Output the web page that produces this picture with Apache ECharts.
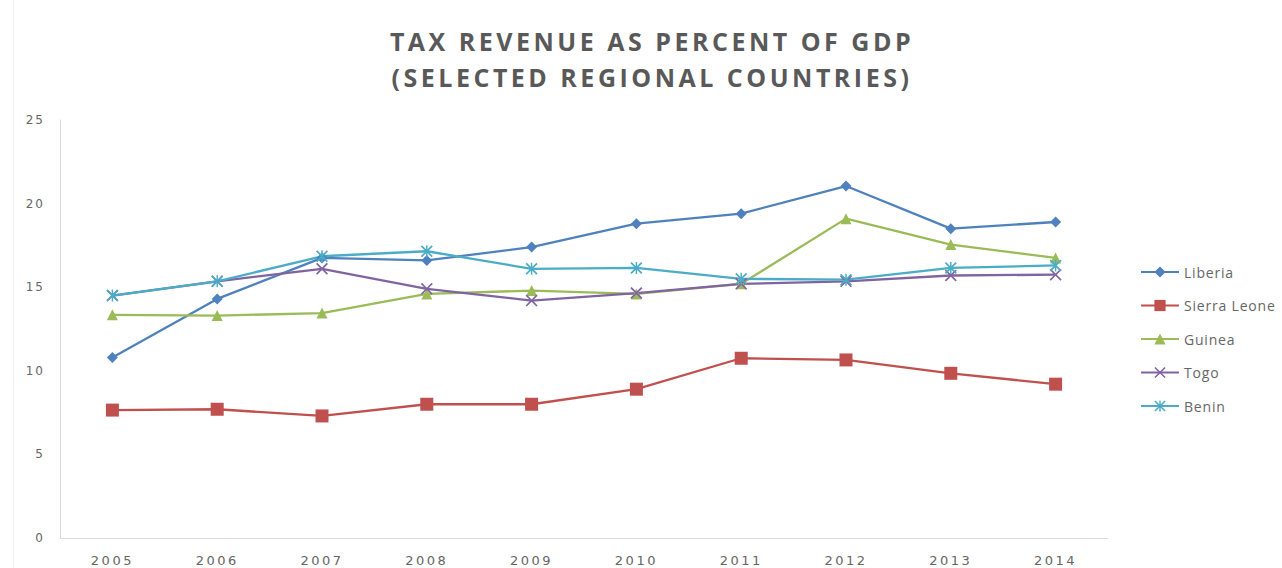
<!DOCTYPE html>
<html>
<head>
<meta charset="utf-8">
<script src="https://cdn.jsdelivr.net/npm/echarts@6/dist/echarts.min.js"></script>
<style>
html,body{margin:0;padding:0;background:#fff;}
#c{width:1282px;height:568px;}
#c text[style*="25px"]{letter-spacing:3.5px;}
#c text[style*="14px"]{letter-spacing:0.8px;}
#c text[style*="13px"]{letter-spacing:2.5px;}
#c text[style*="12px"]{letter-spacing:2px;}
</style>
</head>
<body>
<div id="c"></div>
<script>
const years = ['2005','2006','2007','2008','2009','2010','2011','2012','2013','2014'];
const liberia     = [10.8, 14.3, 16.75, 16.6, 17.4, 18.8, 19.4, 21.05, 18.5, 18.9];
const sierraLeone = [7.65, 7.7, 7.3, 8.0, 8.0, 8.9, 10.75, 10.65, 9.85, 9.2];
const guinea      = [13.35, 13.3, 13.45, 14.6, 14.8, 14.6, 15.2, 19.1, 17.55, 16.75];
const togo        = [14.5, 15.35, 16.1, 14.9, 14.2, 14.65, 15.2, 15.35, 15.7, 15.75];
const benin       = [14.5, 15.35, 16.85, 17.15, 16.1, 16.15, 15.5, 15.45, 16.15, 16.3];
const yTicks = [0, 5, 10, 15, 20, 25];

const xPath = 'path://M0,1L1,0L5,4L9,0L10,1L6,5L10,9L9,10L5,6L1,10L0,9L4,5Z';
const starPath = 'path://M0,1L1,0L5,4L9,0L10,1L6,5L10,9L9,10L5,6L1,10L0,9L4,5ZM4.4,0L5.6,0L5.6,10L4.4,10Z';

function mk(name, data, color, symbol, size) {
  return {
    name: name, type: 'line', data: data, symbol: symbol, symbolSize: size,
    showAllSymbol: true,
    lineStyle: {color: color, width: 2.3},
    itemStyle: {color: color},
    emphasis: {disabled: true}
  };
}

const chart = echarts.init(document.getElementById('c'), null, {renderer: 'svg'});
chart.setOption({
  animation: false,
  backgroundColor: '#ffffff',
  title: {
    text: 'TAX REVENUE AS PERCENT OF GDP\n(SELECTED REGIONAL COUNTRIES)',
    left: 647, top: 18, textAlign: 'center',
    textStyle: {fontFamily: 'Open Sans', fontWeight: 'bold', fontSize: 25, color: '#595959', lineHeight: 36}
  },
  graphic: [{
    type: 'rect', left: 13, top: 0, shape: {width: 1, height: 568},
    style: {fill: '#efefef'}, silent: true
  }],
  legend: {
    orient: 'vertical', left: 1135, top: 260,
    itemWidth: 38, itemHeight: 14, itemGap: 19.5,
    textStyle: {fontFamily: 'Open Sans', fontSize: 14, color: '#666666'},
    data: ['Liberia', 'Sierra Leone', 'Guinea', 'Togo', 'Benin']
  },
  grid: {left: 60, right: 174, top: 120, bottom: 30, containLabel: false},
  xAxis: {
    type: 'category', data: years, boundaryGap: true,
    axisLine: {lineStyle: {color: '#d9d9d9', width: 1}},
    axisTick: {show: false},
    axisLabel: {fontFamily: 'DejaVu Sans', fontSize: 13, color: '#666666', margin: 16}
  },
  yAxis: {
    type: 'value', min: yTicks[0], max: yTicks[yTicks.length - 1], interval: 5,
    axisLine: {show: true, lineStyle: {color: '#d9d9d9', width: 1}},
    axisTick: {show: false},
    splitLine: {show: false},
    axisLabel: {fontFamily: 'DejaVu Sans', fontSize: 12, color: '#666666', margin: 15}
  },
  series: [
    mk('Liberia', liberia, '#4F81BD', 'diamond', 11),
    mk('Sierra Leone', sierraLeone, '#C0504D', 'rect', 13),
    mk('Guinea', guinea, '#9BBB59', 'triangle', 11),
    mk('Togo', togo, '#8064A2', xPath, 12),
    mk('Benin', benin, '#4BACC6', starPath, 12)
  ]
});
</script>
</body>
</html>
